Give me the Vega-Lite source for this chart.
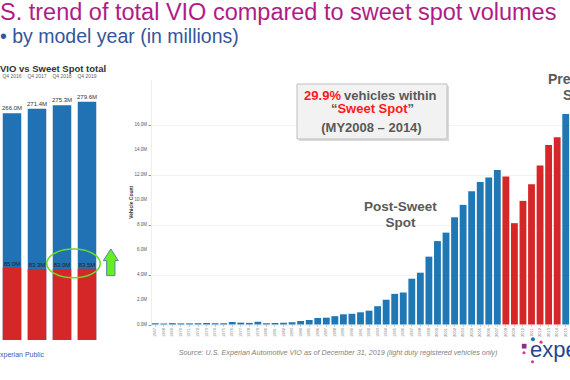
{
  "$schema": "https://vega.github.io/schema/vega-lite/v6.json",
  "padding": 0,
  "background": "white",
  "bounds": "flush",
  "spacing": 52,
  "title": {
    "text": "S. trend of total VIO compared to sweet spot volumes",
    "subtitle": "• by model year (in millions)",
    "anchor": "start",
    "fontSize": 23.5,
    "fontWeight": "normal",
    "color": "#b01c87",
    "subtitleColor": "#34559e",
    "subtitleFontSize": 19.5,
    "subtitlePadding": 4,
    "offset": 17
  },
  "config": {
    "font": "Liberation Sans",
    "view": {"stroke": null}
  },
  "hconcat": [
    {
      "width": 99,
      "height": 261,
      "title": {"text": "VIO vs Sweet Spot total", "anchor": "start", "fontSize": 9.5, "fontWeight": "bold", "color": "#333333", "offset": 0},
      "data": {"values": [
        {"quarter": "Q4 2016", "total": 266.0, "sweet": 85.0, "total_label": "266.0M", "sweet_label": "85.0M"},
        {"quarter": "Q4 2017", "total": 271.4, "sweet": 83.3, "total_label": "271.4M", "sweet_label": "83.3M"},
        {"quarter": "Q4 2018", "total": 275.3, "sweet": 83.0, "total_label": "275.3M", "sweet_label": "83.0M"},
        {"quarter": "Q4 2019", "total": 279.6, "sweet": 83.5, "total_label": "279.6M", "sweet_label": "83.5M"}
      ]},
      "encoding": {
        "x": {"field": "quarter", "type": "ordinal", "scale": {"paddingInner": 0.26, "paddingOuter": 0.11},
              "axis": {"orient": "top", "title": null, "labelAngle": 0, "labelFontSize": 5, "labelColor": "#666666", "domain": false, "ticks": false, "labelPadding": 1}}
      },
      "layer": [
        {"mark": {"type": "bar", "color": "#2171b5"},
         "encoding": {"y": {"field": "total", "type": "quantitative", "scale": {"domain": [0, 306.2], "nice": false}, "axis": null}}},
        {"mark": {"type": "bar", "color": "#d62728"},
         "encoding": {"y": {"field": "sweet", "type": "quantitative"}}},
        {"mark": {"type": "text", "baseline": "bottom", "dy": -2, "fontSize": 6, "color": "#333333"},
         "encoding": {"y": {"field": "total", "type": "quantitative"}, "text": {"field": "total_label"}}},
        {"mark": {"type": "text", "baseline": "bottom", "dy": -1, "fontSize": 6, "color": "#222222"},
         "encoding": {"y": {"field": "sweet", "type": "quantitative"}, "text": {"field": "sweet_label"}}},
        {"data": {"values": [{}]},
         "mark": {"type": "point", "shape": "M -1 0 A 1 0.54 0 1 0 1 0 A 1 0.54 0 1 0 -1 0 Z", "size": 2852, "filled": false, "stroke": "#66dd22", "strokeWidth": 1.5, "opacity": 1, "xOffset": 11.5, "clip": false},
         "encoding": {"x": {"datum": "Q4 2018"}, "y": {"datum": 89.8, "type": "quantitative"}}},
        {"data": {"values": [{}]},
         "mark": {"type": "point", "shape": "M 0 -1 L 0.56 -0.12 L 0.31 -0.12 L 0.31 1 L -0.31 1 L -0.31 -0.12 L -0.56 -0.12 Z", "size": 713, "filled": true, "fill": "#66ee22", "stroke": "#5b7fb0", "strokeWidth": 1, "opacity": 1, "xOffset": 23.8, "clip": false},
         "encoding": {"x": {"datum": "Q4 2019"}, "y": {"datum": 91.2, "type": "quantitative"}}},
        {"data": {"values": [{}]},
         "mark": {"type": "text", "align": "left", "baseline": "middle", "fontSize": 7, "color": "#3a5ca8", "xOffset": -12, "clip": false},
         "encoding": {"x": {"datum": "Q4 2016"}, "y": {"datum": -17.6, "type": "quantitative"}, "text": {"value": "xperian Public"}}}
      ]
    },
    {
      "width": 419,
      "height": 245.5,
      "data": {"values": [
        {"year": "1967", "vio": 0.10, "period": "Post-Sweet Spot"},
        {"year": "1968", "vio": 0.08, "period": "Post-Sweet Spot"},
        {"year": "1969", "vio": 0.11, "period": "Post-Sweet Spot"},
        {"year": "1970", "vio": 0.09, "period": "Post-Sweet Spot"},
        {"year": "1971", "vio": 0.09, "period": "Post-Sweet Spot"},
        {"year": "1972", "vio": 0.10, "period": "Post-Sweet Spot"},
        {"year": "1973", "vio": 0.12, "period": "Post-Sweet Spot"},
        {"year": "1974", "vio": 0.10, "period": "Post-Sweet Spot"},
        {"year": "1975", "vio": 0.10, "period": "Post-Sweet Spot"},
        {"year": "1976", "vio": 0.20, "period": "Post-Sweet Spot"},
        {"year": "1977", "vio": 0.15, "period": "Post-Sweet Spot"},
        {"year": "1978", "vio": 0.13, "period": "Post-Sweet Spot"},
        {"year": "1979", "vio": 0.22, "period": "Post-Sweet Spot"},
        {"year": "1980", "vio": 0.10, "period": "Post-Sweet Spot"},
        {"year": "1981", "vio": 0.12, "period": "Post-Sweet Spot"},
        {"year": "1982", "vio": 0.14, "period": "Post-Sweet Spot"},
        {"year": "1983", "vio": 0.18, "period": "Post-Sweet Spot"},
        {"year": "1984", "vio": 0.28, "period": "Post-Sweet Spot"},
        {"year": "1985", "vio": 0.36, "period": "Post-Sweet Spot"},
        {"year": "1986", "vio": 0.52, "period": "Post-Sweet Spot"},
        {"year": "1987", "vio": 0.55, "period": "Post-Sweet Spot"},
        {"year": "1988", "vio": 0.67, "period": "Post-Sweet Spot"},
        {"year": "1989", "vio": 0.82, "period": "Post-Sweet Spot"},
        {"year": "1990", "vio": 0.86, "period": "Post-Sweet Spot"},
        {"year": "1991", "vio": 0.98, "period": "Post-Sweet Spot"},
        {"year": "1992", "vio": 1.11, "period": "Post-Sweet Spot"},
        {"year": "1993", "vio": 1.47, "period": "Post-Sweet Spot"},
        {"year": "1994", "vio": 1.99, "period": "Post-Sweet Spot"},
        {"year": "1995", "vio": 2.46, "period": "Post-Sweet Spot"},
        {"year": "1996", "vio": 2.57, "period": "Post-Sweet Spot"},
        {"year": "1997", "vio": 3.68, "period": "Post-Sweet Spot"},
        {"year": "1998", "vio": 4.16, "period": "Post-Sweet Spot"},
        {"year": "1999", "vio": 5.45, "period": "Post-Sweet Spot"},
        {"year": "2000", "vio": 6.70, "period": "Post-Sweet Spot"},
        {"year": "2001", "vio": 7.38, "period": "Post-Sweet Spot"},
        {"year": "2002", "vio": 8.61, "period": "Post-Sweet Spot"},
        {"year": "2003", "vio": 9.61, "period": "Post-Sweet Spot"},
        {"year": "2004", "vio": 10.71, "period": "Post-Sweet Spot"},
        {"year": "2005", "vio": 11.45, "period": "Post-Sweet Spot"},
        {"year": "2006", "vio": 11.81, "period": "Post-Sweet Spot"},
        {"year": "2007", "vio": 12.41, "period": "Post-Sweet Spot"},
        {"year": "2008", "vio": 11.88, "period": "Sweet Spot"},
        {"year": "2009", "vio": 8.14, "period": "Sweet Spot"},
        {"year": "2010", "vio": 9.93, "period": "Sweet Spot"},
        {"year": "2011", "vio": 11.26, "period": "Sweet Spot"},
        {"year": "2012", "vio": 12.78, "period": "Sweet Spot"},
        {"year": "2013", "vio": 14.42, "period": "Sweet Spot"},
        {"year": "2014", "vio": 15.04, "period": "Sweet Spot"},
        {"year": "2015", "vio": 16.90, "period": "Pre-Sweet Spot"}
      ]},
      "encoding": {
        "x": {"field": "year", "type": "ordinal", "scale": {"paddingInner": 0.2, "paddingOuter": 0.1},
              "axis": {"title": null, "labelAngle": -90, "labelFontSize": 4, "labelColor": "#777777", "ticks": true, "tickSize": 2, "tickColor": "#cccccc", "domain": false, "labelPadding": 1}}
      },
      "layer": [
        {"mark": {"type": "bar"},
         "encoding": {
           "y": {"field": "vio", "type": "quantitative", "scale": {"domain": [0, 19.72], "nice": false},
                 "axis": {"values": [0, 2, 4, 6, 8, 10, 12, 14, 16], "labels": false, "tickSize": 3, "tickColor": "#999999", "domainColor": "#eeeeee", "gridColor": "#f3f3f3", "title": "Vehicle Count", "titleFontSize": 5, "titleColor": "#333333", "titleFontWeight": "bold", "titlePadding": 14}},
           "color": {"field": "period", "type": "nominal", "scale": {"domain": ["Post-Sweet Spot", "Sweet Spot", "Pre-Sweet Spot"], "range": ["#1f77b4", "#d62728", "#1f77b4"]}, "legend": null}
         }},
        {"data": {"values": [
           {"tick": 0, "tick_label": "0.0M"}, {"tick": 2, "tick_label": "2.0M"}, {"tick": 4, "tick_label": "4.0M"},
           {"tick": 6, "tick_label": "6.0M"}, {"tick": 8, "tick_label": "8.0M"}, {"tick": 10, "tick_label": "10.0M"},
           {"tick": 12, "tick_label": "12.0M"}, {"tick": 14, "tick_label": "14.0M"}, {"tick": 16, "tick_label": "16.0M"}]},
         "mark": {"type": "text", "align": "right", "baseline": "middle", "fontSize": 4.5, "color": "#555555", "xOffset": -8.3, "clip": false},
         "encoding": {"x": {"datum": "1967"}, "y": {"field": "tick", "type": "quantitative"}, "text": {"field": "tick_label"}}},
        {"data": {"values": [{}]},
         "mark": {"type": "rect", "fill": "#999999", "opacity": 0.35, "xOffset": -1.65, "x2Offset": 3, "yOffset": 2, "y2Offset": 2, "clip": false},
         "encoding": {"x": {"datum": "1984"}, "x2": {"datum": "2001"}, "y": {"datum": 19.32, "type": "quantitative"}, "y2": {"datum": 14.9}}},
        {"data": {"values": [{}]},
         "mark": {"type": "rect", "fill": "#f2f2f2", "stroke": "#bfbfbf", "strokeWidth": 1, "xOffset": -3.65, "x2Offset": 1, "clip": false},
         "encoding": {"x": {"datum": "1984"}, "x2": {"datum": "2001"}, "y": {"datum": 19.32, "type": "quantitative"}, "y2": {"datum": 14.9}}},
        {"data": {"values": [{}]},
         "mark": {"type": "text", "align": "right", "baseline": "middle", "fontSize": 13, "fontWeight": "bold", "color": "#ff1a1a", "xOffset": -2.4, "clip": false},
         "encoding": {"x": {"datum": "1989"}, "y": {"datum": 18.35, "type": "quantitative"}, "text": {"value": "29.9%"}}},
        {"data": {"values": [{}]},
         "mark": {"type": "text", "align": "left", "baseline": "middle", "fontSize": 13, "fontWeight": "bold", "color": "#595959", "xOffset": 0.6, "clip": false},
         "encoding": {"x": {"datum": "1989"}, "y": {"datum": 18.35, "type": "quantitative"}, "text": {"value": "vehicles within"}}},
        {"data": {"values": [{}]},
         "mark": {"type": "text", "align": "center", "baseline": "middle", "fontSize": 13, "fontWeight": "bold", "color": "#ff1a1a", "xOffset": 3.4, "clip": false},
         "encoding": {"x": {"datum": "1992"}, "y": {"datum": 17.31, "type": "quantitative"}, "text": {"value": "Sweet Spot"}}},
        {"data": {"values": [{}]},
         "mark": {"type": "text", "align": "right", "baseline": "middle", "fontSize": 13, "fontWeight": "bold", "color": "#595959", "xOffset": -5.9, "clip": false},
         "encoding": {"x": {"datum": "1989"}, "y": {"datum": 17.31, "type": "quantitative"}, "text": {"value": "“"}}},
        {"data": {"values": [{}]},
         "mark": {"type": "text", "align": "left", "baseline": "middle", "fontSize": 13, "fontWeight": "bold", "color": "#595959", "xOffset": 4.2, "clip": false},
         "encoding": {"x": {"datum": "1996"}, "y": {"datum": 17.31, "type": "quantitative"}, "text": {"value": "”"}}},
        {"data": {"values": [{}]},
         "mark": {"type": "text", "align": "center", "baseline": "middle", "fontSize": 13, "fontWeight": "bold", "color": "#595959", "xOffset": 2.4, "clip": false},
         "encoding": {"x": {"datum": "1992"}, "y": {"datum": 15.78, "type": "quantitative"}, "text": {"value": "(MY2008 – 2014)"}}},
        {"data": {"values": [{"label": "Post-Sweet", "v": 9.44}, {"label": "Spot", "v": 8.19}]},
         "mark": {"type": "text", "align": "center", "baseline": "middle", "fontSize": 13.5, "fontWeight": "bold", "color": "#595959", "xOffset": -2.8, "clip": false},
         "encoding": {"x": {"datum": "1996"}, "y": {"field": "v", "type": "quantitative"}, "text": {"field": "label"}}},
        {"data": {"values": [{}]},
         "mark": {"type": "text", "align": "left", "baseline": "middle", "fontSize": 14, "fontWeight": "bold", "color": "#595959", "xOffset": -0.6, "clip": false},
         "encoding": {"x": {"datum": "2013"}, "y": {"datum": 19.64, "type": "quantitative"}, "text": {"value": "Pre"}}},
        {"data": {"values": [{}]},
         "mark": {"type": "text", "align": "left", "baseline": "middle", "fontSize": 14, "fontWeight": "bold", "color": "#595959", "xOffset": -2.7, "clip": false},
         "encoding": {"x": {"datum": "2015"}, "y": {"datum": 18.35, "type": "quantitative"}, "text": {"value": "S"}}},
        {"data": {"values": [{}]},
         "mark": {"type": "text", "align": "center", "baseline": "middle", "fontSize": 7.2, "fontStyle": "italic", "color": "#7f7f7f", "xOffset": 3.2, "clip": false},
         "encoding": {"x": {"datum": "1988"}, "y": {"datum": -2.29, "type": "quantitative"}, "text": {"value": "Source: U.S. Experian Automotive VIO as of December 31, 2019  (light duty registered vehicles only)"}}},
        {"data": {"values": [{}]},
         "mark": {"type": "text", "align": "left", "baseline": "alphabetic", "fontSize": 22, "color": "#26478d", "xOffset": -1.5, "clip": false},
         "encoding": {"x": {"datum": "2011"}, "y": {"datum": -2.61, "type": "quantitative"}, "text": {"value": "expe"}}},
        {"data": {"values": [{}]},
         "mark": {"type": "point", "shape": "square", "filled": true, "size": 22, "color": "#8e2a8e", "opacity": 1, "xOffset": 1.2, "clip": false},
         "encoding": {"x": {"datum": "2010"}, "y": {"datum": -1.74, "type": "quantitative"}}},
        {"data": {"values": [{}]},
         "mark": {"type": "point", "shape": "circle", "filled": true, "size": 16, "color": "#1f6fb7", "opacity": 1, "xOffset": 1.4, "clip": false},
         "encoding": {"x": {"datum": "2011"}, "y": {"datum": -1.19, "type": "quantitative"}}},
        {"data": {"values": [{"yr": "2012", "v": -1.42}, {"yr": "2010", "v": -2.27}, {"yr": "2011", "v": -2.99}]},
         "mark": {"type": "point", "shape": "circle", "filled": true, "size": 10, "color": "#e2338c", "opacity": 1, "xOffset": 1, "clip": false},
         "encoding": {"x": {"field": "yr"}, "y": {"field": "v", "type": "quantitative"}}}
      ]
    }
  ]
}
